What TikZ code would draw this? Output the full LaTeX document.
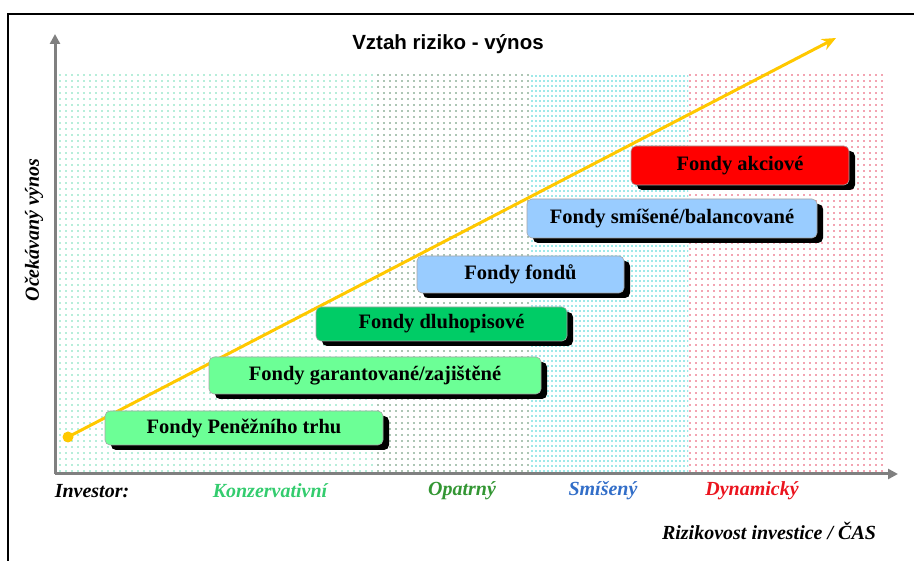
\documentclass[tikz,border=0pt]{standalone}
\usepackage{fontspec}
\setmainfont{Liberation Serif}
\newfontfamily\titlefont{Liberation Sans}
\usetikzlibrary{patterns.meta,shadows,arrows.meta}
\definecolor{lgreen}{RGB}{108,255,150}
\definecolor{mgreen}{RGB}{0,204,102}
\definecolor{lblue}{RGB}{153,204,255}
\definecolor{rred}{RGB}{255,0,0}
\definecolor{yline}{RGB}{255,200,0}
\definecolor{axisgray}{RGB}{128,128,128}
\definecolor{konzcol}{RGB}{51,204,110}
\definecolor{opatcol}{RGB}{51,150,51}
\definecolor{smiscol}{RGB}{50,110,200}
\definecolor{dyncol}{RGB}{235,20,30}
\definecolor{dotA}{RGB}{110,220,180}
\definecolor{dotB}{RGB}{90,140,105}
\definecolor{dotC}{RGB}{60,210,210}
\definecolor{dotD}{RGB}{230,70,100}
\tikzdeclarepattern{
  name=dotssix,
  type=uncolored,
  bounding box={(-3pt,-3pt) and (3pt,3pt)},
  tile size={(6pt,6pt)},
  code={\fill (0pt,0pt) circle (0.9pt);}
}
\tikzdeclarepattern{
  name=cyandots,
  type=colored,
  bounding box={(-2pt,-2.5pt) and (2pt,2.5pt)},
  tile size={(4pt,5pt)},
  code={\fill[dotC] (0pt,0pt) circle (0.8pt);}
}
\begin{document}
\begin{tikzpicture}[x=1pt,y=-1pt,
  fundbox/.style={rounded corners=5pt, draw=black!35, line width=0.6pt,
    drop shadow={shadow xshift=6pt,shadow yshift=-5pt,fill=black,opacity=1},
    font=\fontsize{20.5}{24}\selectfont\bfseries, inner sep=0pt, anchor=center},
  axisline/.style={draw=axisgray, line width=3pt, -{Triangle[length=10pt,width=10pt]}},
  catlabel/.style={font=\fontsize{20}{24}\selectfont\bfseries\itshape, anchor=center},
]
\useasboundingbox (0,0) rectangle (914,561);
% frame
\draw[line width=2.5pt] (8,561) -- (8,14) -- (914,14);
% dotted regions
\fill[pattern=dotssix, pattern color=dotA] (58,75) rectangle (375,472);
\fill[pattern=dotssix, pattern color=dotB] (375,75) rectangle (530,472);
\fill[pattern=cyandots] (530,75) rectangle (688,472);
\fill[pattern=dotssix, pattern color=dotD] (688,75) rectangle (887,472);
% axes
\coordinate (O) at (55,474);
\coordinate (ytop) at (55,34);
\coordinate (xend) at (898,474);
\draw[axisline] (O) -- (ytop);
\draw[axisline] (O) -- (xend);
% title
\node (title) at (448,44) {\titlefont\fontsize{20.5}{24}\selectfont\bfseries Vztah riziko - výnos};
% yellow line
\coordinate (ys) at (68,437);
\coordinate (ye) at (836,38);
\fill[yline] (ys) circle (5.5pt);
\draw[yline, line width=3pt, -{Stealth[length=14pt,width=12pt]}] (ys) -- (ye);
% boxes
\node[fundbox, fill=lgreen, minimum width=278pt, minimum height=34pt] (b1) at (244,428) {Fondy Peněžního trhu};
\node[fundbox, fill=lgreen, minimum width=332pt, minimum height=37pt] (b2) at (375,375.5) {Fondy garantované/zajištěné};
\node[fundbox, fill=mgreen, minimum width=251pt, minimum height=34pt] (b3) at (441.5,324) {Fondy dluhopisové};
\node[fundbox, fill=lblue, minimum width=207pt, minimum height=37pt] (b4) at (520.5,274.5) {Fondy fondů};
\node[fundbox, fill=lblue, minimum width=290pt, minimum height=39pt] (b5) at (672,218.5) {Fondy smíšené/balancované};
\node[fundbox, fill=rred, minimum width=218pt, minimum height=39pt] (b6) at (740,165.5) {Fondy akciové};
% labels
\node[catlabel] (inv) at (92,491) {Investor:};
\node[catlabel, text=konzcol] (konz) at (270,491) {Konzervativní};
\node[catlabel, text=opatcol] (opat) at (462,491) {Opatrný};
\node[catlabel, text=smiscol] (smis) at (603,491) {Smíšený};
\node[catlabel, text=dyncol] (dyn) at (752,491) {Dynamický};
\node[catlabel] (xlab) at (769,531) {Rizikovost investice / ČAS};
\node[catlabel, rotate=90] (ylab) at (34,230) {Očekávaný výnos};
\end{tikzpicture}
\end{document}
